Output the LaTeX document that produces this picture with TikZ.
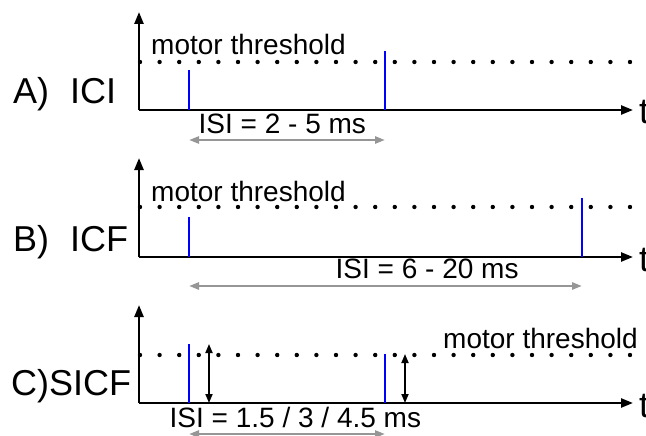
\documentclass[tikz,border=0pt]{standalone}
\usepackage{fontspec}
\setmainfont{Liberation Sans}
\usetikzlibrary{arrows.meta}
\definecolor{pulseblue}{RGB}{0,0,255}
\definecolor{isigray}{RGB}{150,150,150}
\begin{document}
\begin{tikzpicture}[x=1pt,y=-1pt,
  axis/.style={line width=2.4pt, -{Triangle[length=12pt,width=9pt]}},
  pulse/.style={line width=2pt, draw=pulseblue},
  isi/.style={line width=2.4pt, draw=isigray, {Triangle[length=10pt,width=7pt]}-{Triangle[length=10pt,width=7pt]}},
  amp/.style={line width=1.8pt, {Triangle[length=9pt,width=7pt]}-{Triangle[length=9pt,width=7pt]}},
  lbl/.style={anchor=base west, inner sep=0pt, font=\fontsize{36}{36}\selectfont},
  txt/.style={anchor=base west, inner sep=0pt, font=\fontsize{28}{28}\selectfont}]
\useasboundingbox (0,0) rectangle (646,436);

% ---------- Panel A ----------
\coordinate (oA) at (139,110);
\coordinate (yA) at (139,12);
\coordinate (xA) at (633,110);
\foreach \i in {0,...,25} \fill (140+19.6*\i,62) circle (2.2pt);
\draw[axis] (oA) -- (yA);
\draw[axis] (oA) -- (xA);
\coordinate (a1b) at (189,110); \coordinate (a1t) at (189,70);
\coordinate (a2b) at (385,110); \coordinate (a2t) at (385,51);
\draw[pulse] (a1b) -- (a1t);
\draw[pulse] (a2b) -- (a2t);
\coordinate (gA1) at (189,140); \coordinate (gA2) at (385,140);
\draw[isi] (gA1) -- (gA2);
\node[txt] (mtA) at (151,55) {motor threshold};
\node[txt] (isiA) at (198.5,133) {ISI = 2 - 5 ms};
\node[lbl] (labA1) at (13,103) {A)};
\node[lbl] (labA2) at (70,103) {ICI};
\node[lbl] (tA) at (639,124) {t};

% ---------- Panel B ----------
\coordinate (oB) at (139,257);
\coordinate (yB) at (139,158);
\coordinate (xB) at (633,257);
\foreach \i in {0,...,25} \fill (140+19.6*\i,207) circle (2.2pt);
\draw[axis] (oB) -- (yB);
\draw[axis] (oB) -- (xB);
\coordinate (b1b) at (189,257); \coordinate (b1t) at (189,217);
\coordinate (b2b) at (582,257); \coordinate (b2t) at (582,198);
\draw[pulse] (b1b) -- (b1t);
\draw[pulse] (b2b) -- (b2t);
\coordinate (gB1) at (189,286); \coordinate (gB2) at (582,286);
\draw[isi] (gB1) -- (gB2);
\node[txt] (mtB) at (151,201) {motor threshold};
\node[txt] (isiB) at (335.5,278) {ISI = 6 - 20 ms};
\node[lbl] (labB1) at (13,251) {B)};
\node[lbl] (labB2) at (70,251) {ICF};
\node[lbl] (tB) at (639,271) {t};

% ---------- Panel C ----------
\coordinate (oC) at (139,403);
\coordinate (yC) at (139,305);
\coordinate (xC) at (633,403);
\foreach \i in {0,...,25} \fill (140+19.6*\i,355) circle (2.2pt);
\draw[axis] (oC) -- (yC);
\draw[axis] (oC) -- (xC);
\coordinate (c1b) at (189,403); \coordinate (c1t) at (189,344);
\coordinate (c2b) at (385,403); \coordinate (c2t) at (385,354);
\draw[pulse] (c1b) -- (c1t);
\draw[pulse] (c2b) -- (c2t);
\coordinate (d1b) at (209,403); \coordinate (d1t) at (209,344);
\coordinate (d2b) at (405,403); \coordinate (d2t) at (405,354);
\draw[amp] (d1b) -- (d1t);
\draw[amp] (d2b) -- (d2t);
\coordinate (gC1) at (189,434); \coordinate (gC2) at (385,434);
\draw[isi] (gC1) -- (gC2);
\node[txt] (mtC) at (443,348) {motor threshold};
\node[txt] (isiC) at (169.5,427) {ISI = 1.5 / 3 / 4.5 ms};
\node[lbl] (labC) at (11,395) {C)SICF};
\node[lbl] (tC) at (639,417) {t};
\end{tikzpicture}
\end{document}
